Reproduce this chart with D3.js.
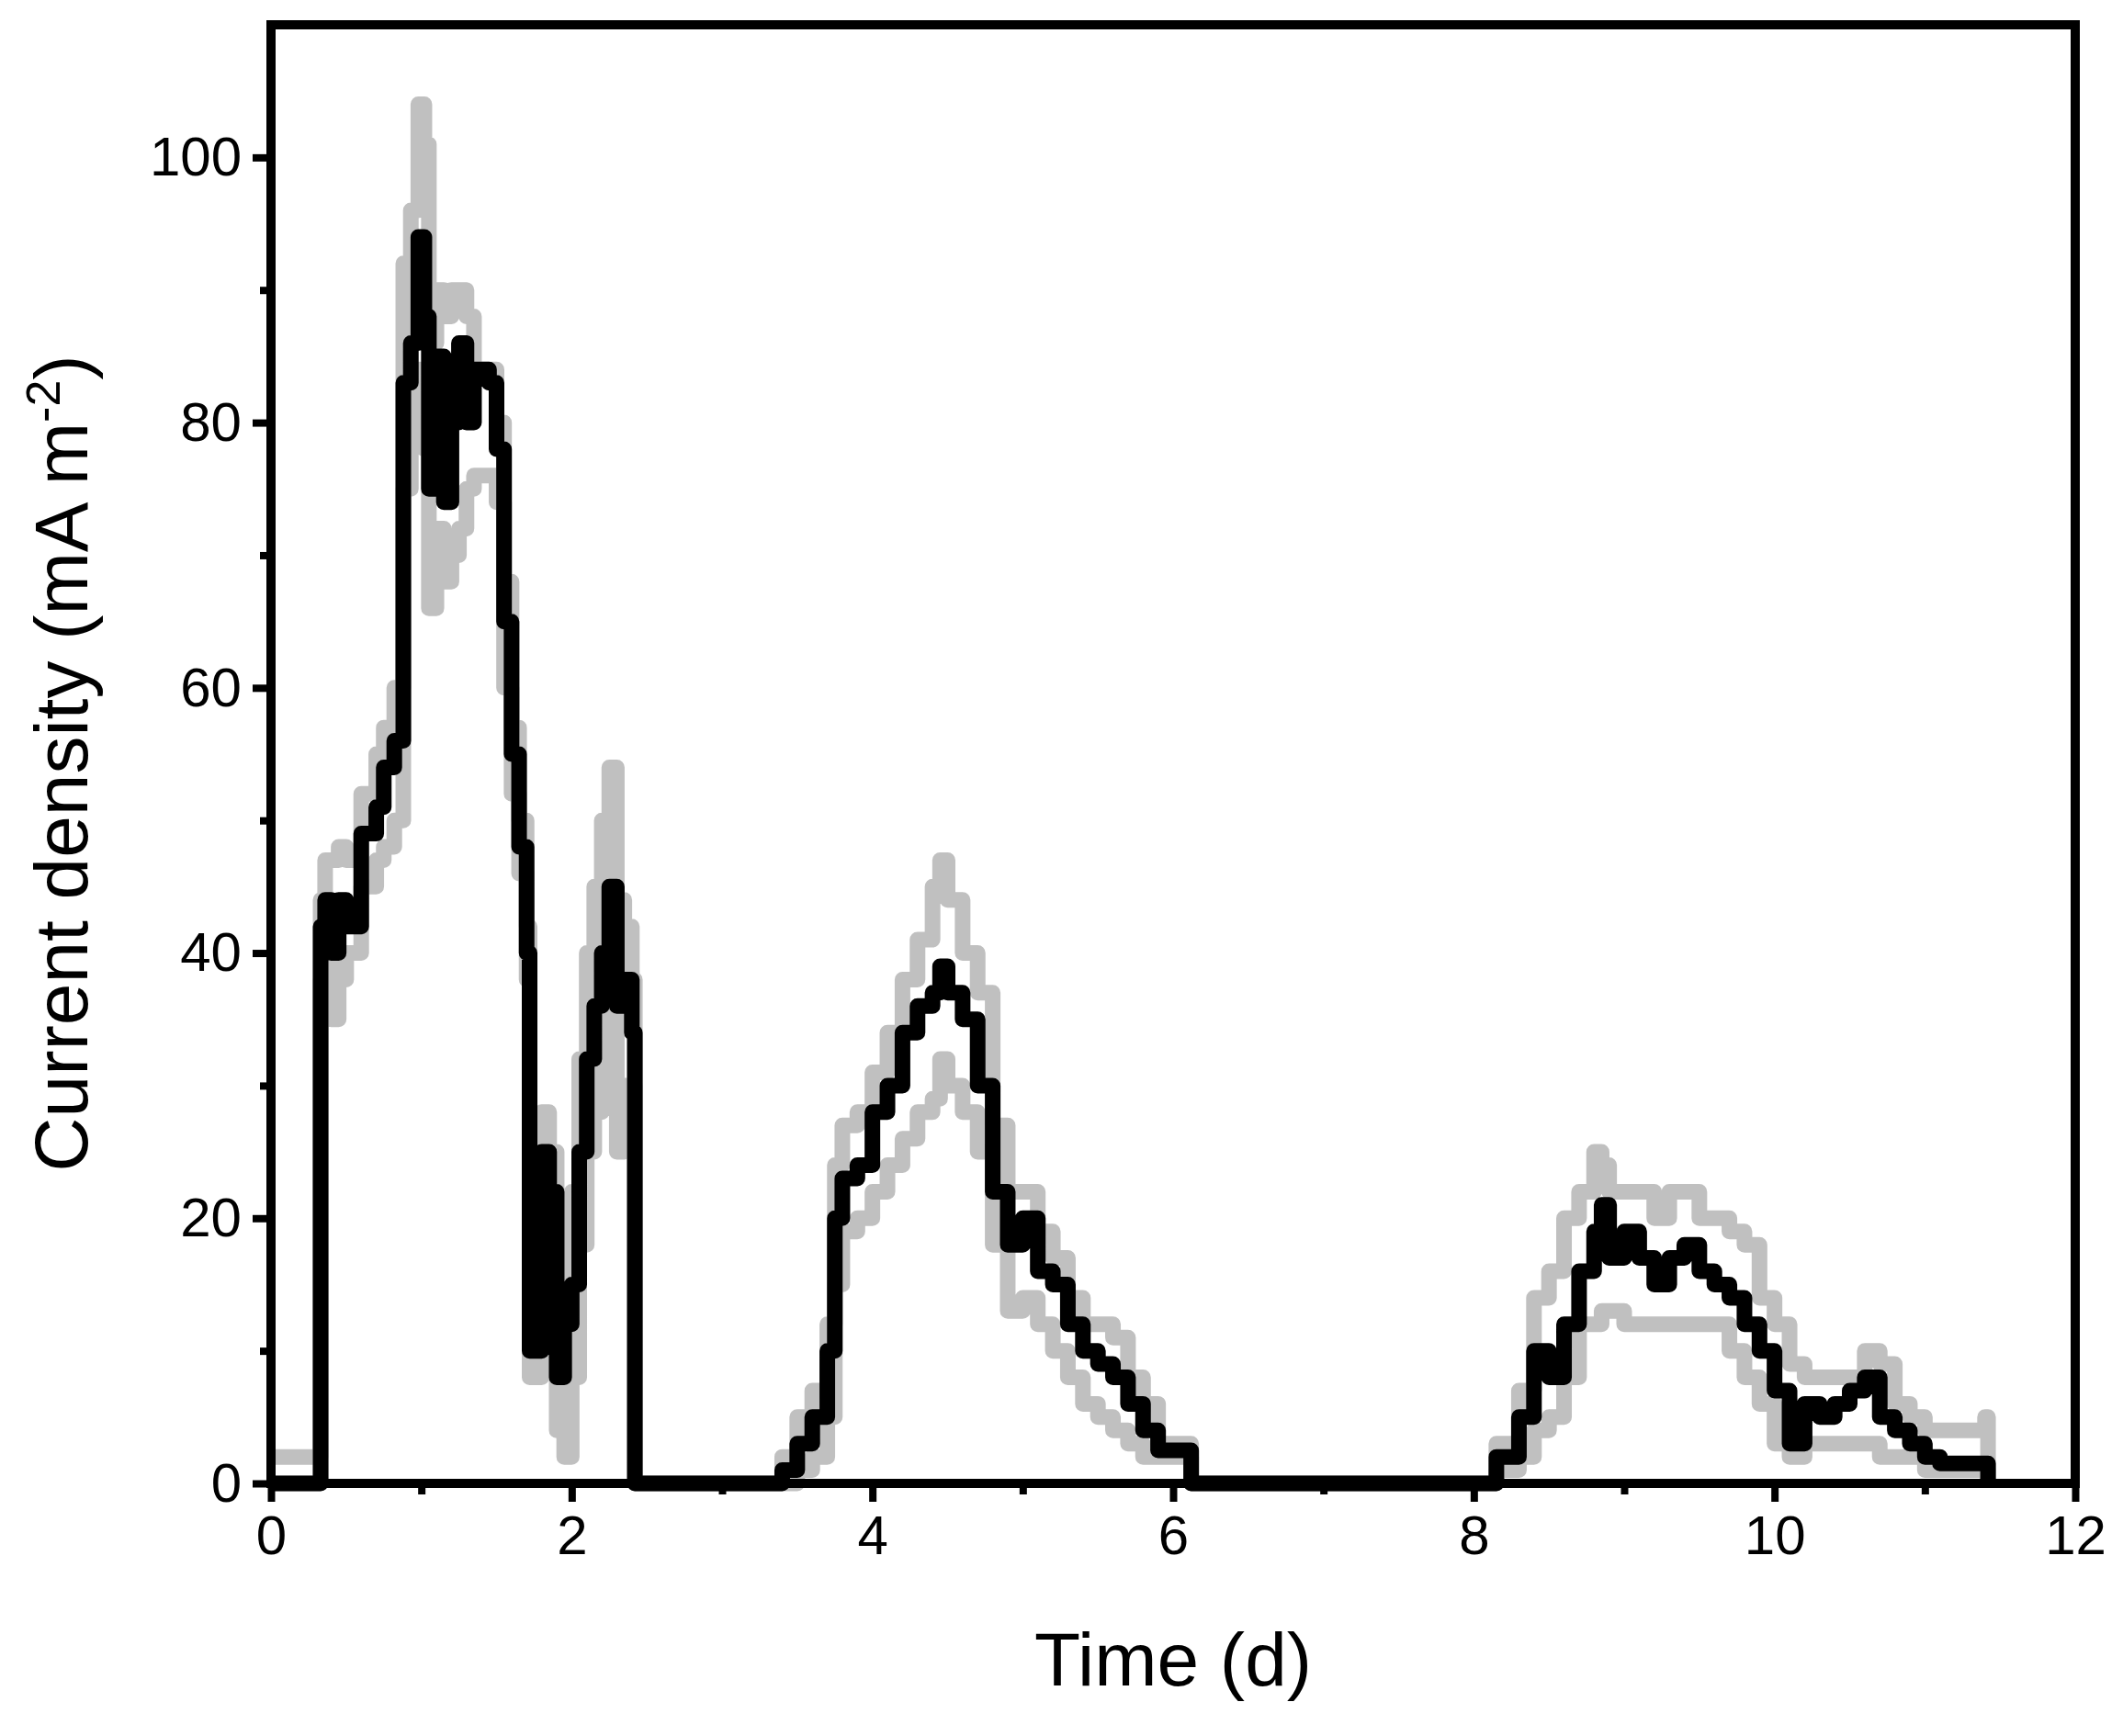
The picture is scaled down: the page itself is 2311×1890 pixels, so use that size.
<!DOCTYPE html>
<html><head><meta charset="utf-8">
<script src="https://cdn.jsdelivr.net/npm/d3@7"></script>
<style>body{margin:0;background:#fff}text{font-family:"Liberation Sans Narrow","Liberation Sans",Arial,sans-serif}</style>
</head><body><svg id="c" width="2311" height="1890"></svg>
<script>
// time (d) and current density (mA m^-2)
var time  = [0,0.23,0.33,0.36,0.4,0.45,0.5,0.6,0.7,0.75,0.82,0.88,0.93,0.98,1.02,1.05,1.1,1.15,1.2,1.25,1.3,1.35,1.45,1.5,1.55,1.6,1.65,1.7,1.72,1.8,1.85,1.9,1.95,2.0,2.05,2.1,2.15,2.2,2.25,2.3,2.35,2.4,2.42,3.35,3.4,3.5,3.6,3.7,3.75,3.8,3.9,4.0,4.1,4.2,4.3,4.4,4.45,4.5,4.6,4.7,4.8,4.9,5.0,5.1,5.2,5.3,5.4,5.5,5.6,5.7,5.8,5.9,6.1,6.12,8.12,8.15,8.3,8.4,8.5,8.6,8.7,8.8,8.85,8.9,9.0,9.1,9.2,9.3,9.4,9.5,9.6,9.7,9.8,9.9,10.0,10.1,10.2,10.3,10.4,10.5,10.6,10.7,10.8,10.9,11.0,11.1,11.4,11.42];
var mean  = [0,0,42,44,40,44,42,49,51,54,56,83,86,94,88,75,85,74,80,86,80,84,83,78,65,55,48,40,10,25,22,8,12,15,25,32,36,40,45,36,38,34,0,0,1,3,5,10,20,23,24,28,30,34,36,37,39,37,35,30,22,18,20,16,15,12,10,9,8,6,4,2.5,2.5,0,0,2,5,10,8,12,16,19,21,17,19,17,15,17,18,16,15,14,12,10,7,3,6,5,6,7,8,5,4,3,2,1.5,1.5,0];
var upper = [2,2,44,47,47,48,47,52,55,57,60,92,96,104,101,86,90,88,90,90,88,84,84,80,68,57,50,42,12,28,25,14,18,22,32,40,45,50,54,44,42,38,0,0,2,5,7,12,24,27,28,31,34,38,41,45,47,44,40,37,27,22,22,19,17,14,12,12,11,8,6,3,3,0,0,3,7,14,16,20,22,25,24,22,22,22,20,22,22,20,20,19,18,14,12,9,8,8,8,8,10,9,6,5,4,4,5,0];
var lower = [0,0,38,40,35,38,40,45,47,48,50,75,80,84,78,66,72,68,70,72,75,76,76,74,60,52,46,38,8,15,12,4,2,8,18,25,28,32,36,25,30,30,0,0,0,1,2,5,15,19,20,22,24,26,28,29,32,30,28,25,18,13,14,12,10,8,6,5,4,3,2,2,2,0,0,1,2,4,5,8,12,12,13,13,12,12,12,12,12,12,12,10,8,6,3,2,3,3,3,3,3,2,2,2,1,1,1,0];
var xTicks = [0,2,4,6,8,10,12];
var yTicks = [0,20,40,60,80,100];

var svg = d3.select('#c');
var L = 295, R = 2259, T = 27, B = 1615;
var x = d3.scaleLinear().domain([0, 12]).range([L, R]);
var y = d3.scaleLinear().domain([0, 110]).range([B, T]);

function pts(vals){ return time.map(function(t, i){ return [t, vals[i]]; }); }
var line = d3.line().x(function(d){ return x(d[0]); }).y(function(d){ return y(d[1]); }).curve(d3.curveStepAfter);

[upper, lower].forEach(function(s){
  svg.append('path').attr('d', line(pts(s))).attr('fill','none')
    .attr('stroke','#c0c0c0').attr('stroke-width',17).attr('stroke-linejoin','round');
});
svg.append('path').attr('d', line(pts(mean))).attr('fill','none')
  .attr('stroke','#000').attr('stroke-width',17).attr('stroke-linejoin','round');

// frame
svg.append('rect').attr('x',L).attr('y',T).attr('width',R-L).attr('height',B-T)
  .attr('fill','none').attr('stroke','#000').attr('stroke-width',10);

// ticks
var xa = svg.append('g').attr('transform','translate(0,'+B+')')
  .call(d3.axisBottom(x).tickValues(d3.range(0,13,1)).tickSize(20).tickFormat(function(d){ return d%2===0 ? d : ''; }).tickPadding(14));
var ya = svg.append('g').attr('transform','translate('+L+',0)')
  .call(d3.axisLeft(y).tickValues(d3.range(0,101,10)).tickSize(20).tickFormat(function(d){ return d%20===0 ? d : ''; }).tickPadding(12));
[xa, ya].forEach(function(a){
  a.select('.domain').remove();
  a.selectAll('line').attr('stroke','#000').attr('stroke-width',8);
  a.selectAll('text').attr('font-size',60).attr('fill','#000');
});
xa.selectAll('.tick').filter(function(d){ return d%2!==0; }).select('line').attr('y2',12);
ya.selectAll('.tick').filter(function(d){ return d%20!==0; }).select('line').attr('x2',-12);

svg.append('text').attr('x',(L+R)/2).attr('y',1835).attr('text-anchor','middle')
  .attr('font-size',82).text('Time (d)');
var yl = svg.append('text').attr('transform','translate(95,'+((T+B)/2+10)+') rotate(-90)')
  .attr('text-anchor','middle').attr('font-size',82);
yl.append('tspan').text('Current density (mA m');
yl.append('tspan').attr('dy',-30).attr('font-size',52).text('-2');
yl.append('tspan').attr('dy',30).text(')');
</script></body></html>
